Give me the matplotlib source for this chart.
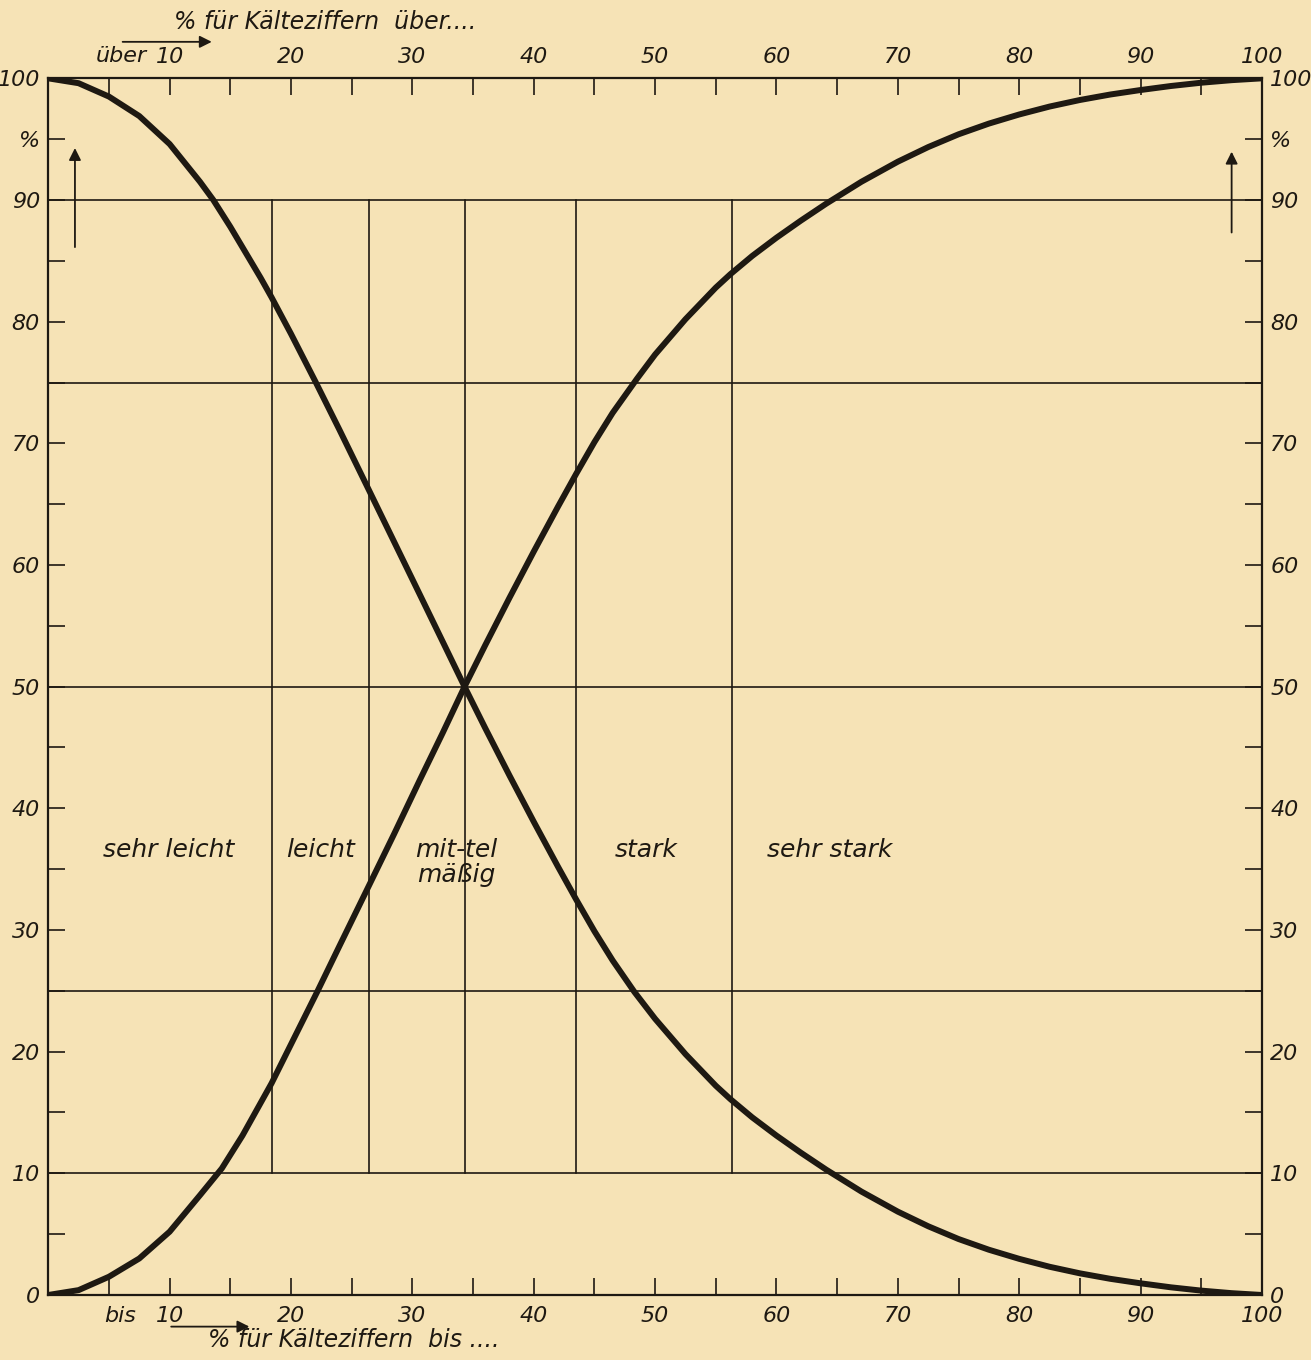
import matplotlib
matplotlib.use("Agg")
import matplotlib.pyplot as plt

# decreasing curve ("bis")
x_down = [0, 2.5, 5, 7.5, 10, 12.5, 13.6, 15, 17.5, 18.4, 20, 22, 24, 26.4,
          28.5, 30.6, 32.5, 34.3, 36, 38, 40, 42, 43.5, 45, 46.5, 48.3, 50,
          52.5, 55, 56.2, 58, 60, 62, 64.1, 67, 70, 72.5, 75, 77.5, 80, 82.5,
          85, 87.5, 90, 92.5, 95, 97.5, 100]
y_down = [100, 99.6, 98.5, 96.9, 94.6, 91.5, 90.0, 87.8, 83.6, 82.0, 79.0,
          75.1, 71.1, 66.2, 61.9, 57.6, 53.7, 50.0, 46.6, 42.7, 38.9, 35.2,
          32.5, 29.9, 27.5, 24.9, 22.7, 19.8, 17.2, 16.1, 14.6, 13.1, 11.7,
          10.3, 8.5, 6.85, 5.65, 4.6, 3.72, 2.97, 2.32, 1.78, 1.33, 0.96,
          0.63, 0.36, 0.15, 0]

# increasing curve ("über")
x_up = [0, 2.5, 5, 7.5, 10, 12.5, 14.3, 16, 18.4, 20, 22.2, 24, 26.4, 28.5,
        30.6, 32.5, 34.3, 36, 38, 40, 42, 43.5, 45, 46.5, 48.5, 50, 52.5, 55,
        56.2, 58, 60, 62, 64.1, 67, 70, 72.5, 75, 77.5, 80, 82.5, 85, 87.5,
        90, 92.5, 95, 97.5, 100]
y_up = [0, 0.4, 1.5, 3.0, 5.2, 8.2, 10.4, 13.1, 17.4, 20.6, 25.0, 28.7, 33.6,
        37.9, 42.3, 46.2, 50.0, 53.4, 57.3, 61.1, 64.8, 67.5, 70.1, 72.5,
        75.3, 77.3, 80.2, 82.8, 83.9, 85.4, 86.9, 88.3, 89.7, 91.5, 93.15,
        94.35, 95.4, 96.28, 97.03, 97.68, 98.22, 98.67, 99.04, 99.37,
        99.64, 99.85, 100]

h_lines = [10, 25, 50, 75, 90]
v_lines = [18.4, 26.4, 34.3, 43.5, 56.3]

regions = ["sehr leicht", "leicht", "mit-tel\nmäßig", "stark", "sehr stark"]
region_x = [9.9, 22.4, 33.6, 49.3, 64.4]

x_ticks = list(range(0, 101, 5))
x_labels = ["" if t % 10 or t == 0 else str(t) for t in x_ticks]
y_ticks = list(range(0, 101, 5))
y_labels = ["%" if t == 95 else ("" if t % 10 else str(t)) for t in y_ticks]

paper = "#f6e3b6"
ink = "#1e1912"
font = dict(family="DejaVu Sans", style="italic", color=ink)

fig = plt.figure(figsize=(13.11, 13.6), dpi=100, facecolor=paper)
ax = fig.add_axes([0.0368, 0.0478, 0.9258, 0.8946], facecolor=paper)
ax.set_xlim(0, 100)
ax.set_ylim(0, 100)

for h in h_lines:
    ax.axhline(h, color=ink, lw=1.2, zorder=1)
for v in v_lines:
    ax.plot([v, v], [10, 90], color=ink, lw=1.2, zorder=1)

ax.plot(x_down, y_down, color=ink, lw=4.3, solid_joinstyle="round",
        solid_capstyle="round", zorder=3)
ax.plot(x_up, y_up, color=ink, lw=4.3, solid_joinstyle="round",
        solid_capstyle="round", zorder=3)

for s in ax.spines.values():
    s.set_color(ink)
    s.set_linewidth(1.6)

ax.set_xticks(x_ticks)
ax.set_xticklabels(x_labels, fontsize=16, **font)
ax.set_yticks(y_ticks)
ax.set_yticklabels(y_labels, fontsize=16, **font)
ax.tick_params(axis="both", direction="in", length=12, width=1.2, color=ink,
               top=True, right=True, labeltop=True, labelright=True)
ax.tick_params(axis="x", pad=8)
ax.tick_params(axis="y", pad=6)

for name, xr in zip(regions, region_x):
    ax.text(xr, 37.6, name, ha="center", va="top", fontsize=18,
            linespacing=1.1, **font)

ax.text(6.0, 101.8, "über", ha="center", va="center", fontsize=16,
        clip_on=False, **font)
ax.text(5.9, -1.7, "bis", ha="center", va="center", fontsize=16,
        clip_on=False, **font)

ax.text(22.8, 104.6, "% für Kälteziffern  über....", ha="center",
        va="center", fontsize=17, clip_on=False, **font)
ax.text(25.2, -3.7, "% für Kälteziffern  bis ....", ha="center",
        va="center", fontsize=17, clip_on=False, **font)

arrow = dict(arrowstyle="-|>", color=ink, lw=1.3, mutation_scale=18)
ax.annotate("", xy=(13.7, 103.0), xytext=(5.9, 103.0),
            arrowprops=arrow, annotation_clip=False)
ax.annotate("", xy=(16.8, -2.6), xytext=(9.9, -2.6),
            arrowprops=arrow, annotation_clip=False)
ax.annotate("", xy=(2.2, 94.5), xytext=(2.2, 85.9), arrowprops=arrow)
ax.annotate("", xy=(97.5, 94.2), xytext=(97.5, 87.1), arrowprops=arrow)

fig.savefig("out.png", dpi=100, facecolor=paper)
